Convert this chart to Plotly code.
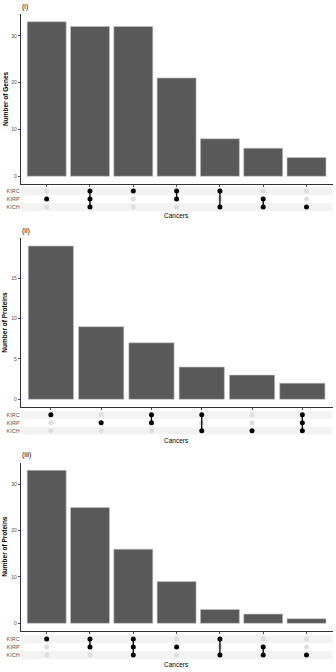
import plotly.graph_objects as go

cancers = ["KIRC", "KIRP", "KICH"]

genes_sets = [["KIRP"], ["KIRC", "KIRP", "KICH"], ["KIRC"], ["KIRC", "KIRP"],
              ["KIRC", "KICH"], ["KIRP", "KICH"], ["KICH"]]
genes_counts = [33, 32, 32, 21, 8, 6, 4]

prot2_sets = [["KIRC"], ["KIRP"], ["KIRC", "KIRP"], ["KIRC", "KICH"],
              ["KICH"], ["KIRC", "KIRP", "KICH"]]
prot2_counts = [19, 9, 7, 4, 3, 2]

prot3_sets = [["KIRC"], ["KIRC", "KIRP"], ["KIRC", "KIRP", "KICH"], ["KIRP"],
              ["KIRC", "KICH"], ["KIRP", "KICH"], ["KICH"]]
prot3_counts = [33, 25, 16, 9, 3, 2, 1]

panel_titles = ["(i)", "(ii)", "(iii)"]
y_titles = ["Number of Genes", "Number of Proteins", "Number of Proteins"]
y_tickvals = [[0, 10, 20, 30], [0, 5, 10, 15], [0, 10, 20, 30]]
x_title = "Cancers"

W, H = 336, 672
X0, X1 = 20.7, 332.5
# pixel layout of each panel
panels = [
    dict(bar_top=14, bar_bot=184, mat_top=187, mat_bot=211, title_y=7, xlab_y=216),
    dict(bar_top=238.3, bar_bot=407, mat_top=410.7, mat_bot=434.7, title_y=231, xlab_y=440),
    dict(bar_top=462.7, bar_bot=631, mat_top=635, mat_bot=659, title_y=455, xlab_y=664),
]


def py(p):
    return 1 - p / H


data_sets = [(genes_sets, genes_counts), (prot2_sets, prot2_counts), (prot3_sets, prot3_counts)]

fig = go.Figure()
layout = dict(width=W, height=H, margin=dict(l=0, r=0, t=0, b=0, autoexpand=False),
              plot_bgcolor="white", paper_bgcolor="white", showlegend=False,
              font=dict(family="Liberation Sans", color="#000000"))
annotations = []
shapes = []
FONT = "Liberation Sans"

for i, ((sets, counts), pl) in enumerate(zip(data_sets, panels)):
    bi = 2 * i + 1
    mi = 2 * i + 2
    names = ["&".join(s) for s in sets]
    n = len(names)
    bx = "x" if bi == 1 else f"x{bi}"
    byy = "y" if bi == 1 else f"y{bi}"
    mx = f"x{mi}"
    myy = f"y{mi}"

    fig.add_trace(go.Bar(x=names, y=counts, xaxis=bx, yaxis=byy, width=0.9,
                         marker=dict(color="#595959", line=dict(color="#c4c4c4", width=0.6)),
                         hoverinfo="x+y"))

    gx, gy = [], []
    ax_, ay_ = [], []
    lx, ly = [], []
    for nm, s in zip(names, sets):
        for c in cancers:
            if c in s:
                ax_.append(nm); ay_.append(c)
            else:
                gx.append(nm); gy.append(c)
        if len(s) > 1:
            act = [c for c in cancers if c in s]
            lx += [nm, nm, None]
            ly += [act[0], act[-1], None]
    fig.add_trace(go.Scatter(x=gx, y=gy, mode="markers", xaxis=mx, yaxis=myy,
                             marker=dict(color="#dedede", size=5), hoverinfo="skip"))
    fig.add_trace(go.Scatter(x=lx, y=ly, mode="lines", xaxis=mx, yaxis=myy,
                             line=dict(color="#000000", width=1.3), hoverinfo="skip"))
    fig.add_trace(go.Scatter(x=ax_, y=ay_, mode="markers", xaxis=mx, yaxis=myy,
                             marker=dict(color="#000000", size=5), hoverinfo="skip"))

    top = max(counts)
    dom_x = [X0 / W, X1 / W]
    layout["xaxis" if bi == 1 else f"xaxis{bi}"] = dict(
        domain=dom_x, anchor=byy, type="category", categoryorder="array", categoryarray=names,
        range=[-0.6, n - 0.4], showline=True, linecolor="#333333", linewidth=1,
        ticks="outside", ticklen=2, tickcolor="#4d4d4d", tickwidth=0.6, automargin=False,
        showticklabels=False, showgrid=False, zeroline=False, fixedrange=True)
    layout["yaxis" if bi == 1 else f"yaxis{bi}"] = dict(
        domain=[py(pl["bar_bot"]), py(pl["bar_top"])], anchor=bx, automargin=False,
        range=[-0.05 * top, 1.05 * top], showline=True, linecolor="#333333", linewidth=1,
        ticks="outside", ticklen=2, tickcolor="#4d4d4d", tickwidth=0.6,
        tickvals=y_tickvals[i], tickfont=dict(size=5, color="#4d4d4d", family=FONT),
        showgrid=False, zeroline=False, fixedrange=True)
    layout[f"xaxis{mi}"] = dict(
        domain=dom_x, anchor=myy, type="category", categoryorder="array", categoryarray=names,
        range=[-0.6, n - 0.4], showline=False, showticklabels=False, showgrid=False,
        zeroline=False, ticks="", fixedrange=True, automargin=False)
    layout[f"yaxis{mi}"] = dict(
        domain=[py(pl["mat_bot"]), py(pl["mat_top"])], anchor=mx, type="category",
        categoryorder="array", categoryarray=cancers[::-1], range=[-0.5, 2.5],
        showline=False, showgrid=False, zeroline=False, ticks="", automargin=False,
        tickfont=dict(size=5.5, color="#555555", family=FONT), fixedrange=True)

    for k, c in enumerate(cancers[::-1]):
        if c in ("KIRC", "KICH"):
            shapes.append(dict(type="rect", xref=f"x{mi} domain", yref=myy,
                               x0=0, x1=1, y0=k - 0.5, y1=k + 0.5,
                               fillcolor="#f3f3f3", line=dict(width=0), layer="below"))

    annotations.append(dict(text=panel_titles[i], xref="paper", yref="paper",
                            x=19.5 / W, y=py(pl["title_y"]), xanchor="left", yanchor="middle",
                            showarrow=False, font=dict(size=7, color="#000000", family=FONT)))
    annotations.append(dict(text="<b>" + y_titles[i] + "</b>", xref="paper", yref="paper",
                            x=5 / W, y=py((pl["bar_top"] + pl["bar_bot"]) / 2),
                            xanchor="center", yanchor="middle", textangle=-90,
                            showarrow=False, font=dict(size=6.5, color="#000000", family=FONT)))
    annotations.append(dict(text=x_title, xref="paper", yref="paper",
                            x=(X0 + X1) / 2 / W, y=py(pl["xlab_y"]), xanchor="center",
                            yanchor="middle", showarrow=False,
                            font=dict(size=6.5, color="#000000", family=FONT)))

layout["annotations"] = annotations
layout["shapes"] = shapes
fig.update_layout(**layout)
fig.write_html("out.html", config={"displayModeBar": False},
               post_script="document.body.style.margin='0';document.body.style.padding='0';")
